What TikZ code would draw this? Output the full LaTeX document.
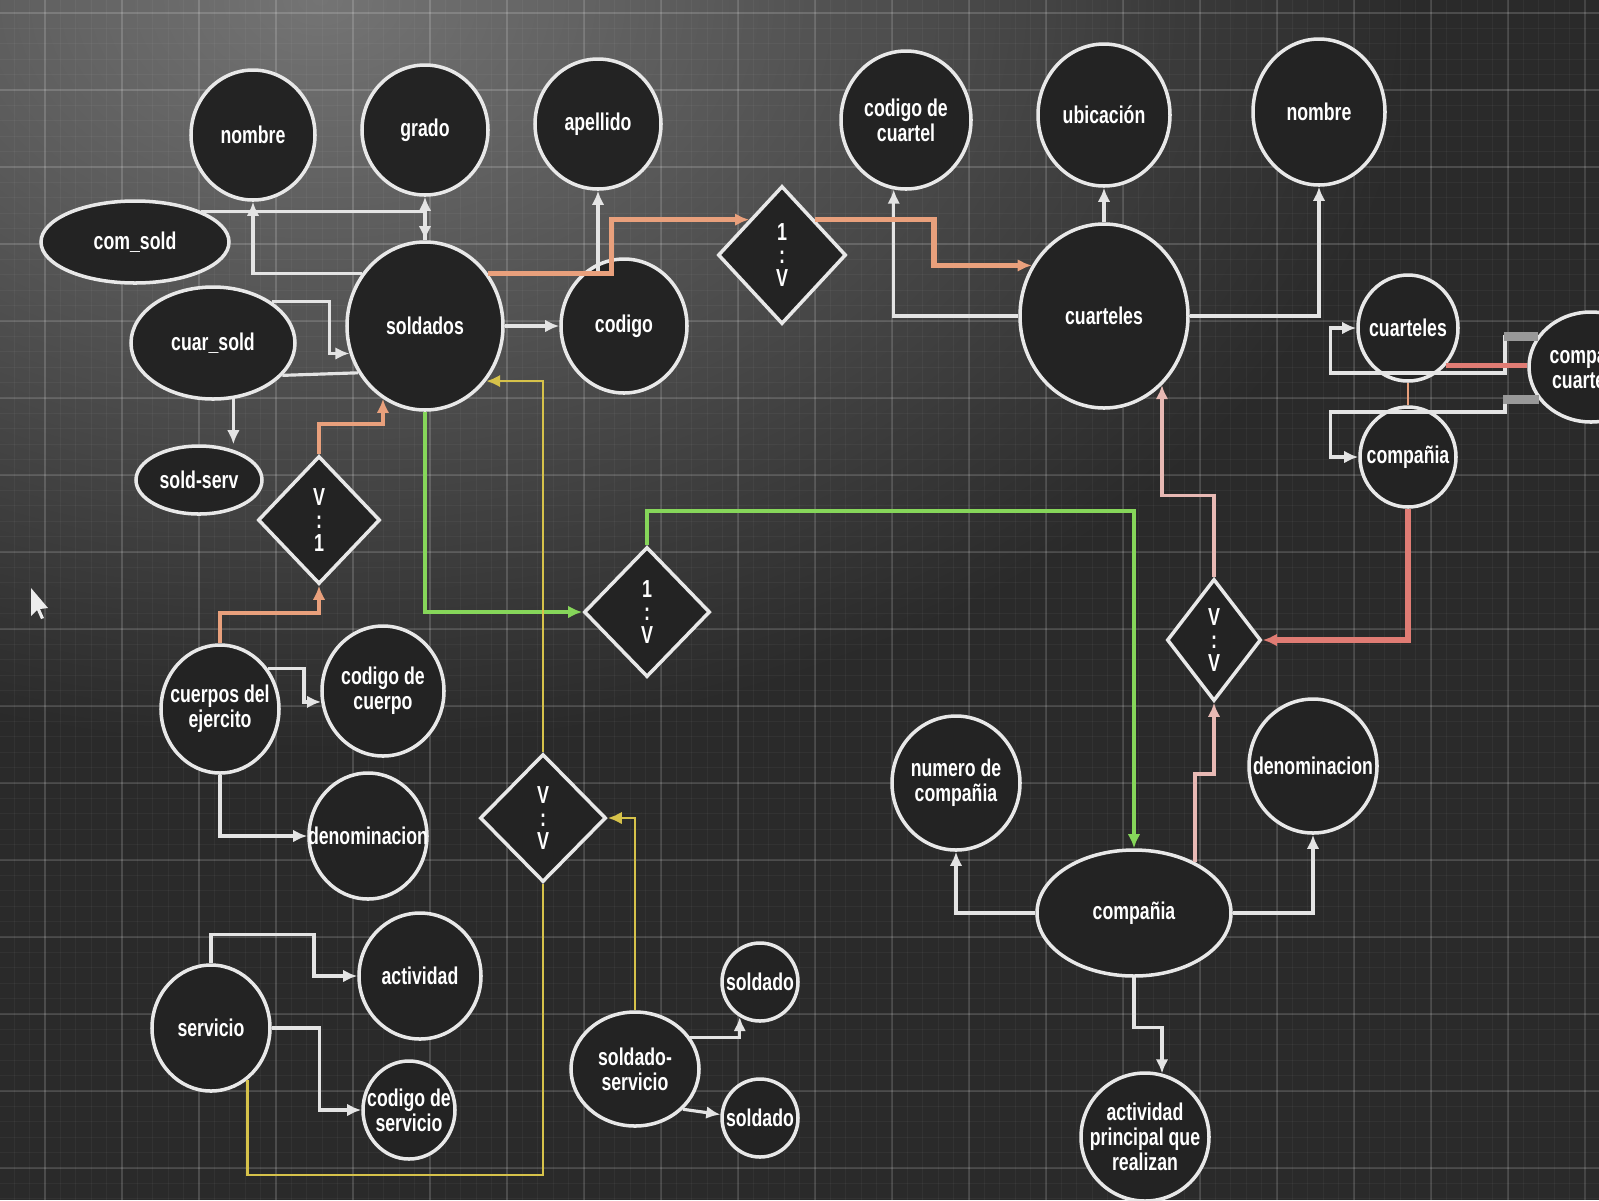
\documentclass[tikz,border=0pt]{standalone}
\usepackage{fontspec}
\setmainfont{Liberation Sans}[FakeStretch=0.73]
\usetikzlibrary{shapes.geometric, arrows.meta}

\definecolor{bgdark}{HTML}{2A2A2A}
\definecolor{glare}{HTML}{747474}
\definecolor{nodeline}{HTML}{E8E8E8}
\definecolor{nodefill}{HTML}{232323}
\definecolor{connwhite}{HTML}{E4E4E4}
\definecolor{orangeln}{HTML}{E9A07C}
\definecolor{greenln}{HTML}{86D65A}
\definecolor{yellowln}{HTML}{D6C24A}
\definecolor{pinkln}{HTML}{E8B9B4}
\definecolor{redln}{HTML}{E07C74}

\begin{document}
\begin{tikzpicture}[x=1cm, y=-1cm]
\tikzset{ >={Latex[length=4pt,width=3.6pt]},
  attrtext/.style={text=white, align=center, inner sep=0pt, font=\bfseries\fontsize{6.9}{7.2}\selectfont},
  attr/.style={ellipse, draw=nodeline, fill=nodefill, line width=1pt, inner sep=0pt,
    label={[attrtext]center:#1}},
  rel/.style={diamond, draw=nodeline, fill=nodefill, line width=1pt, inner sep=0pt,
    text=white, align=center, font=\bfseries\fontsize{7}{6.6}\selectfont},
  conn/.style={connwhite, line width=0.9pt},
  colln/.style={line width=#1},
  gridminor/.style={white, opacity=0.04, line width=0.3pt},
  gridmajor/.style={white, opacity=0.13, line width=0.4pt},
}

\useasboundingbox (0,0) rectangle (15.99,12);
\clip (0,0) rectangle (15.99,12);
\fill [bgdark] (0,0) rectangle (15.99,12);
\shade [inner color=glare, outer color=bgdark] (3.2,0) ellipse (11 and 7.5);
\foreach \k in {0,...,104} {
  \draw [gridminor] ({0.45+0.154*(\k-5)},0) -- ++(0,12);
}
\foreach \k in {0,...,79} {
  \draw [gridminor] (0,{0.13+0.154*\k}) -- ++(15.99,0);
}
\foreach \k in {0,...,20} {
  \draw [gridmajor] ({0.45+0.77*\k},0) -- ++(0,12);
}
\foreach \k in {0,...,15} {
  \draw [gridmajor] (0,{0.13+0.77*\k}) -- ++(15.99,0);
}

% soldados
\node [attr=nombre, minimum width=1.24cm, minimum height=1.30cm] (nombre) at (2.53,1.35) {};
\node [attr=grado, minimum width=1.26cm, minimum height=1.30cm] (grado) at (4.25,1.30) {};
\node [attr=apellido, minimum width=1.26cm, minimum height=1.30cm] (apellido) at (5.98,1.24) {};
\node [attr=com\_sold, minimum width=1.88cm, minimum height=0.82cm] (comsold) at (1.35,2.42) {};
\node [attr=cuar\_sold, minimum width=1.64cm, minimum height=1.12cm] (cuarsold) at (2.13,3.43) {};
\node [attr=soldados, minimum width=1.56cm, minimum height=1.68cm] (soldados) at (4.25,3.26) {};
\node [attr=codigo, minimum width=1.26cm, minimum height=1.34cm] (codigo) at (6.24,3.26) {};
\node [attr=sold-serv, minimum width=1.26cm, minimum height=0.68cm] (soldserv) at (1.99,4.80) {};

% relaciones
\node [rel, minimum width=1.28cm, minimum height=1.38cm] (rel1) at (7.82,2.55) {1\\:\\V};
\node [rel, minimum width=1.22cm, minimum height=1.28cm] (rel2) at (3.19,5.20) {V\\:\\1};
\node [rel, minimum width=1.26cm, minimum height=1.30cm] (rel3) at (6.47,6.12) {1\\:\\V};
\node [rel, minimum width=1.26cm, minimum height=1.28cm] (rel4) at (5.43,8.18) {V\\:\\V};
\node [rel, minimum width=0.94cm, minimum height=1.22cm] (relR) at (12.14,6.40) {V\\:\\V};

% cuarteles
\node [attr={codigo de\\cuartel}, minimum width=1.30cm, minimum height=1.38cm] (codcuartel) at (9.06,1.20) {};
\node [attr=ubicación, minimum width=1.32cm, minimum height=1.42cm] (ubicacion) at (11.04,1.15) {};
\node [attr=nombre, minimum width=1.32cm, minimum height=1.46cm] (nombrecuart) at (13.19,1.12) {};
\node [attr=cuarteles, minimum width=1.68cm, minimum height=1.84cm] (cuarteles) at (11.04,3.16) {};
\node [attr=cuarteles, minimum width=1.00cm, minimum height=1.06cm] (cuartsmall) at (14.08,3.28) {};
\node [attr=compañia, minimum width=0.96cm, minimum height=1.00cm] (compsmall) at (14.08,4.57) {};
\node [attr={compañia\\cuarteles}, minimum width=1.24cm, minimum height=1.10cm] (compcuart) at (15.91,3.67) {};

% cuerpos y servicio
\node [attr={cuerpos del\\ejercito}, minimum width=1.18cm, minimum height=1.28cm] (cuerpos) at (2.20,7.09) {};
\node [attr={codigo de\\cuerpo}, minimum width=1.22cm, minimum height=1.30cm] (codcuerpo) at (3.83,6.91) {};
\node [attr=denominacion, minimum width=1.18cm, minimum height=1.26cm] (denom1) at (3.68,8.36) {};
\node [attr=actividad, minimum width=1.22cm, minimum height=1.26cm] (actividad) at (4.20,9.76) {};
\node [attr=servicio, minimum width=1.18cm, minimum height=1.26cm] (servicio) at (2.11,10.28) {};
\node [attr={codigo de\\servicio}, minimum width=0.92cm, minimum height=0.98cm] (codserv) at (4.09,11.10) {};
\node [attr={soldado-\\servicio}, minimum width=1.28cm, minimum height=1.14cm] (solserv) at (6.35,10.69) {};
\node [attr=soldado, minimum width=0.76cm, minimum height=0.78cm] (soldado1) at (7.60,9.82) {};
\node [attr=soldado, minimum width=0.76cm, minimum height=0.78cm] (soldado2) at (7.60,11.18) {};

% compania
\node [attr={numero de\\compañia}, minimum width=1.28cm, minimum height=1.34cm] (numcomp) at (9.56,7.83) {};
\node [attr=denominacion, minimum width=1.28cm, minimum height=1.34cm] (denom2) at (13.13,7.66) {};
\node [attr=compañia, minimum width=1.94cm, minimum height=1.26cm] (compania) at (11.34,9.13) {};
\node [attr={actividad\\principal que\\realizan}, minimum width=1.28cm, minimum height=1.28cm] (actppal) at (11.45,11.37) {};

% white connectors
\draw [conn, ->] (comsold.25) -| (soldados.north);
\draw [conn, ->] (soldados.north) -- (grado.south);
\draw [conn, ->] (soldados.140) -| (nombre.south);
\draw [conn, ->] (soldados.40) -| (apellido.south);
\draw [conn, ->] (soldados.east) -- (codigo.west);
\draw [conn, ->] (cuarteles.west) -| (codcuartel.260);
\draw [conn, ->] (cuarteles.north) -- (ubicacion.south);
\draw [conn, ->] (cuarteles.east) -| (nombrecuart.south);
\draw [conn, ->] (cuarsold.35) -- ++(0.58,0) |- (soldados.200);
\draw [conn] (cuarsold.335) -- (soldados.215);
\draw [conn, ->] (cuarsold.290) -- (cuarsold.290 |- soldserv.north);
\draw [conn, ->] (cuerpos.40) -- ++(0.36,0) |- (codcuerpo.190);
\draw [conn, ->] (cuerpos.south) |- (denom1.west);
\draw [conn, ->] (solserv.30) -| (soldado1.240);
\draw [conn, ->] (solserv.320) -- (soldado2.175);
\draw [conn, ->] (servicio.north) -- ++(0,-0.29) -- ++(1.03,0) |- (actividad.west);
\draw [conn, ->] (servicio.east) -- ++(0.48,0) |- (codserv.west);
\draw [conn, ->] (compania.west) -| (numcomp.south);
\draw [conn, ->] (compania.east) -| (denom2.south);
\draw [conn, ->] (compania.south) -- ++(0,0.5) -| (actppal.75);
\draw [conn, ->] (compcuart.150) -| (15.05,3.73) -| ([xshift=-0.26cm]cuartsmall.west) -- (cuartsmall.west);
\draw [conn, ->] (compcuart.212) -| (15.05,4.12) -| ([xshift=-0.28cm]compsmall.west) -- (compsmall.west);
\draw [gray!80, line width=2.6pt] (compcuart.150) -- ++(-0.34,0);
\draw [gray!80, line width=2.6pt] (compcuart.212) -- ++(-0.36,0);

% coloured connectors
\draw [orangeln, colln=1.4pt, ->] (soldados.40) -- ++(1.24,0) |- (rel1.north west);
\draw [orangeln, colln=1.6pt, ->] (rel1.north east) -- ++(1.19,0) |- (cuarteles.145);
\draw [orangeln, colln=1.2pt, ->] (rel2.north) -- ++(0,-0.3) -| (soldados.240);
\draw [orangeln, colln=1.2pt, ->] (cuerpos.north) -- ++(0,-0.3) -| (rel2.south);
\draw [greenln, colln=1.2pt, ->] (soldados.south) |- (rel3.west);
\draw [greenln, colln=1.2pt, ->] (rel3.north) -- ++(0,-0.34) -| (compania.north);
\draw [yellowln, colln=0.8pt] (servicio.305) -- ++(0,0.95) -| (rel4.south);
\draw [yellowln, colln=0.8pt, ->] (rel4.north) |- (soldados.318);
\draw [yellowln, colln=0.8pt, ->] (solserv.north) |- (rel4.east);
\draw [pinkln, colln=1pt, ->] (compania.40) -- ++(0,-0.88) -| (relR.south);
\draw [pinkln, colln=1pt, ->] (relR.north) -- ++(0,-0.82) -| (cuarteles.310);
\draw [redln, colln=1.5pt, ->] (compsmall.south) |- (relR.east);
\draw [redln, colln=1.5pt] (cuartsmall.315) -- (cuartsmall.315 -| compcuart.west);
\draw [orangeln, colln=0.6pt] (cuartsmall.south) -- (compsmall.north);

% cursor
\fill [white!85!gray] (0.31,5.88) -- (0.31,6.16) -- (0.37,6.10) -- (0.41,6.19) -- (0.44,6.18) -- (0.40,6.09) -- (0.48,6.08) -- cycle;
\end{tikzpicture}
\end{document}
